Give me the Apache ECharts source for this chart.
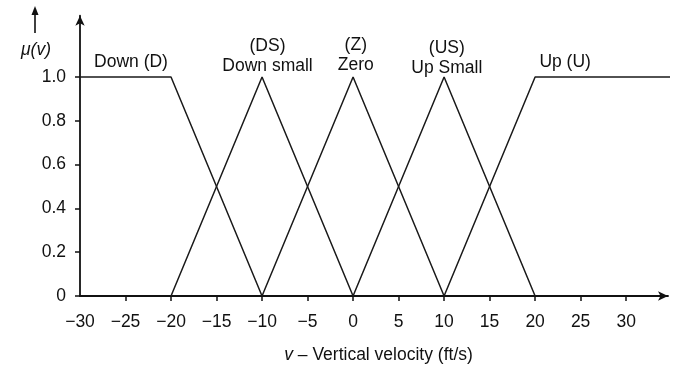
<!DOCTYPE html>
<html>
<head>
<meta charset="utf-8">
<script src="https://cdn.jsdelivr.net/npm/echarts@6/dist/echarts.min.js"></script>
<style>html,body{margin:0;padding:0;background:#fff}#c{width:673px;height:368px}</style>
</head>
<body>
<div id="c"></div>
<script>
// membership functions (x = velocity ft/s, y = membership)
const downPts = [[-30, 1], [-20, 1], [-10, 0]];
const downSmallPts = [[-20, 0], [-10, 1], [0, 0]];
const zeroPts = [[-10, 0], [0, 1], [10, 0]];
const upSmallPts = [[0, 0], [10, 1], [20, 0]];
const upPts = [[10, 0], [20, 1], [35, 1]];

const xTicks = [-30, -25, -20, -15, -10, -5, 0, 5, 10, 15, 20, 25, 30];
const yTicks = [0, 0.2, 0.4, 0.6, 0.8, 1.0];

const annoText = ['Down (D)', '(DS)\nDown small', '(Z)\nZero', '(US)\nUp Small', 'Up (U)'];
const annoX = [-24.4, -9.4, 0.3, 10.3, 23.3];
const annoY = [1.07, 1.095, 1.10, 1.087, 1.07];

const FONT = '"Liberation Sans", Arial, sans-serif';
const FS = 17.5;
const INK = '#111';

const lineStyle = { color: '#1a1a1a', width: 1.5 };
function mk(name, pts) {
  return { name: name, type: 'line', data: pts, symbol: 'none', lineStyle: lineStyle, silent: true, animation: false, clip: true };
}

const chart = echarts.init(document.getElementById('c'));
chart.setOption({
  animation: false,
  backgroundColor: '#fff',
  textStyle: { fontFamily: FONT, color: INK },
  grid: { left: 80, right: 5, top: 15.7, bottom: 72, outerBoundsMode: 'none', containLabel: false },
  xAxis: {
    type: 'value', min: -30, max: 34.6,
    name: '{i|v} – Vertical velocity (ft/s)',
    nameLocation: 'middle', nameGap: 50,
    nameTextStyle: {
      fontFamily: FONT, fontSize: FS, color: INK, padding: [0, 0, 0, 9],
      rich: { i: { fontStyle: 'italic', fontFamily: FONT, fontSize: FS, color: INK } }
    },
    axisLine: { show: true, onZero: false, symbol: ['none', 'arrow'], symbolSize: [7, 10], lineStyle: { color: '#111', width: 1.8 } },
    axisTick: { show: true, customValues: xTicks.slice(1), length: 5, lineStyle: { color: '#111', width: 1.5 } },
    axisLabel: {
      customValues: xTicks, margin: 17, fontSize: FS, color: INK, fontFamily: FONT,
      formatter: v => (v < 0 ? '\u2212' + Math.abs(v) : String(v))
    },
    splitLine: { show: false }
  },
  yAxis: {
    type: 'value', min: 0, max: 1.28,
    axisLine: { show: true, onZero: false, symbol: ['none', 'arrow'], symbolSize: [7, 10], lineStyle: { color: '#111', width: 1.8 } },
    axisTick: { show: true, customValues: yTicks, length: 5, lineStyle: { color: '#111', width: 1.5 } },
    axisLabel: {
      customValues: yTicks, margin: 14, fontSize: FS, color: INK, fontFamily: FONT,
      formatter: v => (v === 0 ? '0' : v.toFixed(1))
    },
    splitLine: { show: false }
  },
  series: [
    mk('Down', downPts),
    mk('Down small', downSmallPts),
    mk('Zero', zeroPts),
    mk('Up small', upSmallPts),
    mk('Up', upPts),
    {
      type: 'scatter', symbolSize: 0, silent: true,
      itemStyle: { opacity: 1 },
      data: annoText.map((t, i) => ({ value: [annoX[i], annoY[i]], name: t })),
      label: {
        show: true, position: 'inside', formatter: p => p.name, opacity: 1,
        fontFamily: FONT, fontSize: FS, lineHeight: 20, color: INK, align: 'center', verticalAlign: 'middle'
      }
    }
  ],
  graphic: [
    { type: 'line', shape: { x1: 35, y1: 12, x2: 35, y2: 33 }, style: { stroke: '#111', lineWidth: 1.6 } },
    { type: 'polygon', shape: { points: [[35, 6], [31.5, 15], [38.5, 15]] }, style: { fill: '#111' } },
    { type: 'text', left: 21, top: 41, style: { text: 'μ(v)', font: 'italic 17.5px "Liberation Sans", Arial, sans-serif', fill: INK } }
  ]
});
</script>
</body>
</html>
